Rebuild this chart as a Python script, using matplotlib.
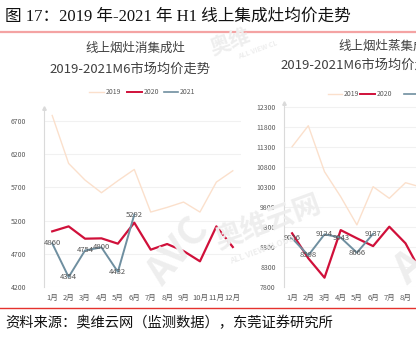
import matplotlib.pyplot as plt
from matplotlib.lines import Line2D

plt.rcParams['font.family'] = ['Noto Sans CJK SC', 'DejaVu Sans']

W, H = 416, 342

months = [f'{i}月' for i in range(1, 13)]

# 线上烟灶消集成灶 均价
xiao_2019 = [6780, 6060, 5810, 5620, 5800, 5970, 5330, 5400, 5480, 5330, 5780, 5950]
xiao_2020 = [5040, 5115, 4930, 4935, 4855, 5170, 4765, 4850, 4745, 4590, 5115, 4805]
xiao_2021 = [4860, 4354, 4754, 4800, 4432, 5292]
xiao_ticks = [4200, 4700, 5200, 5700, 6200, 6700]

# 线上烟灶蒸集成灶 均价
zheng_2019 = [11315, 11840, 10690, 10065, 9360, 10315, 10025, 10415, 10300]
zheng_2020 = [9150, 8525, 8040, 9230, 9025, 8830, 9315, 8900, 8150]
zheng_2021 = [9026, 8598, 9124, 9043, 8666, 9137]
zheng_ticks = [7800, 8300, 8800, 9300, 9800, 10300, 10800, 11300, 11800, 12300]

C2019 = '#FBE0CC'
C2020 = '#D0103A'
C2021 = '#6F8FA0'
GRAY = '#595959'


def fx(x):
    return x / W


def fy(y):
    return 1 - y / H


def px_axes(x0, x1, y_top, y_bot):
    return fig.add_axes([fx(x0), fy(y_bot), (x1 - x0) / W, (y_bot - y_top) / H])


def setup(ax, ticks, ylim, ypad):
    ax.set_xlim(-0.5, 11.5)
    ax.set_ylim(*ylim)
    ax.set_yticks(ticks)
    ax.set_xticks(range(12))
    ax.set_xticklabels(months)
    ax.tick_params(length=0, labelsize=5, colors=GRAY)
    ax.tick_params(axis='x', pad=5, labelsize=5.5)
    ax.tick_params(axis='y', pad=ypad)
    for s in ['top', 'right', 'bottom']:
        ax.spines[s].set_visible(False)
    ax.spines['left'].set_color('#DADADA')
    ax.grid(axis='y', color='#F1F1F1', lw=0.8)
    ax.set_axisbelow(True)
    ax.patch.set_alpha(0)
    ax.plot(0, 1, marker='^', ms=2.5, color='#DADADA',
            transform=ax.transAxes, clip_on=False)


def draw(ax, s2019, s2020, s2021):
    ax.plot(range(len(s2019)), s2019, color=C2019, lw=1.0)
    ax.plot(range(len(s2020)), s2020, color=C2020, lw=1.6)
    ax.plot(range(len(s2021)), s2021, color=C2021, lw=1.4)
    for i, v in enumerate(s2021):
        ax.text(i, v, str(v), ha='center', va='center', fontsize=5.5,
                color='#555555', zorder=5)


def legend(y, entries):
    for x0, x1, tx, label, color, lw in entries:
        fig.add_artist(Line2D([fx(x0), fx(x1)], [fy(y), fy(y)], color=color, lw=lw))
        fig.text(fx(tx), fy(y), label, fontsize=5, color=GRAY, ha='left', va='center')


fig = plt.figure(figsize=(W / 100, H / 100), dpi=100)

# watermarks
wm = '#EEEEEE'
fig.text(fx(268), fy(222), '奥维云网', fontsize=20, color=wm, rotation=20,
         ha='center', va='center', fontweight='bold')
fig.text(fx(262), fy(250), 'ALL VIEW CLOUD', fontsize=6, color=wm, rotation=20,
         ha='center', va='center', fontweight='bold')
fig.text(fx(230), fy(42), '奥维', fontsize=15, color=wm, rotation=20,
         ha='center', va='center', fontweight='bold')
fig.text(fx(258), fy(50), 'ALL VIEW CL', fontsize=5, color=wm, rotation=20,
         ha='center', va='center', fontweight='bold')
fig.text(fx(178), fy(252), 'AVC', fontsize=28, color=wm, rotation=50,
         ha='center', va='center', fontweight='bold', style='italic')
fig.text(fx(410), fy(268), 'A', fontsize=30, color=wm, rotation=40,
         ha='center', va='center', fontweight='bold')

# page title and source
fig.text(fx(5), fy(17), '图 17：2019 年-2021 年 H1 线上集成灶均价走势', fontsize=12,
         family=['Liberation Serif', 'Noto Sans CJK SC'], ha='left', va='center', color='#111111')
fig.add_artist(Line2D([0, 1], [fy(32), fy(32)], color='#F4A3A3', lw=1.6))
fig.add_artist(Line2D([0, 1], [fy(308), fy(308)], color='#E5322D', lw=1.0))
fig.text(fx(5), fy(323), '资料来源：奥维云网（监测数据），东莞证券研究所', fontsize=10.3,
         ha='left', va='center', color='#111111')

# left panel
ax1 = px_axes(44, 241, 107.5, 287.3)
setup(ax1, xiao_ticks, (4200, 6900), 13)
draw(ax1, xiao_2019, xiao_2020, xiao_2021)
fig.text(fx(135), fy(48), '线上烟灶消集成灶', fontsize=9, color='#404040',
         ha='center', va='center', fontweight='medium')
fig.text(fx(130), fy(69), '2019-2021M6市场均价走势', fontsize=9.5, color='#404040',
         ha='center', va='center', fontweight='medium')
legend(92, [(89, 104, 106, '2019', C2019, 1.0),
            (127, 142, 144, '2020', C2020, 1.4),
            (164, 178, 180, '2021', C2021, 1.2)])

# right panel
ax2 = px_axes(284, 478.4, 103.3, 287.3)
setup(ax2, zheng_ticks, (7800, 12400), 6)
draw(ax2, zheng_2019, zheng_2020, zheng_2021)
fig.text(fx(338), fy(46), '线上烟灶蒸集成灶', fontsize=9, color='#404040',
         ha='left', va='center', fontweight='medium')
fig.text(fx(280), fy(65), '2019-2021M6市场均价走势', fontsize=9.5, color='#404040',
         ha='left', va='center', fontweight='medium')
legend(94, [(328, 342, 344, '2019', C2019, 1.0),
            (360, 375, 377, '2020', C2020, 1.4),
            (404, 418, 420, '2021', C2021, 1.2)])

fig.savefig('out.png', dpi=100)
